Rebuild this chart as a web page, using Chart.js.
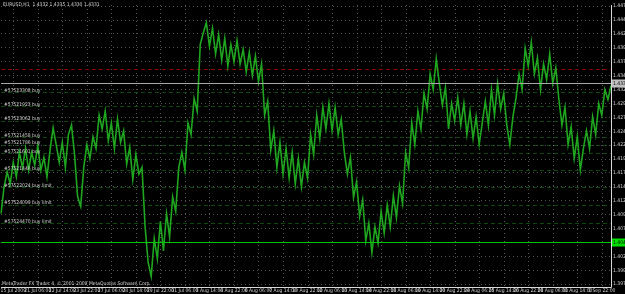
<!DOCTYPE html>
<html>
<head>
<meta charset="utf-8">
<script src="https://cdn.jsdelivr.net/npm/chart.js@4.4.0/dist/chart.umd.min.js"></script>
<style>
html, body { margin: 0; padding: 0; background: #000; }
</style>
</head>
<body>
<canvas id="myChart" width="625" height="294"></canvas>
<script>
// EURUSD H1 (one value every 4 bars)
var closePrices = [
    1.4097, 1.4145, 1.4172, 1.4150, 1.4189, 1.4163, 1.4207, 1.4179, 1.4214, 1.4175,
    1.4207, 1.4184, 1.4219, 1.4175, 1.4198, 1.4163, 1.4211, 1.4251, 1.4221, 1.4189,
    1.4225, 1.4180, 1.4239, 1.4256, 1.4203, 1.4127, 1.4110, 1.4180, 1.4221, 1.4196,
    1.4235, 1.4214, 1.4274, 1.4249, 1.4281, 1.4228, 1.4260, 1.4214, 1.4267, 1.4225,
    1.4246, 1.4186, 1.4216, 1.4158, 1.4203, 1.4168, 1.4180, 1.4074, 1.4009, 1.3984,
    1.4052, 1.4016, 1.4083, 1.4030, 1.4097, 1.4055, 1.4127, 1.4101, 1.4180, 1.4207,
    1.4175, 1.4260, 1.4239, 1.4304, 1.4281, 1.4401, 1.4422, 1.4440, 1.4398, 1.4430,
    1.4384, 1.4419, 1.4373, 1.4412, 1.4362, 1.4401, 1.4370, 1.4408, 1.4366, 1.4392,
    1.4352, 1.4387, 1.4345, 1.4380, 1.4334, 1.4366, 1.4274, 1.4299, 1.4211, 1.4246,
    1.4180, 1.4225, 1.4168, 1.4214, 1.4161, 1.4207, 1.4150, 1.4196, 1.4145, 1.4189,
    1.4161, 1.4239, 1.4203, 1.4274, 1.4232, 1.4288, 1.4249, 1.4295, 1.4246, 1.4288,
    1.4239, 1.4267, 1.4207, 1.4168, 1.4198, 1.4126, 1.4154, 1.4092, 1.4122, 1.4048,
    1.4080, 1.4027, 1.4073, 1.4044, 1.4101, 1.4062, 1.4112, 1.4073, 1.4129, 1.4090,
    1.4147, 1.4115, 1.4207, 1.4179, 1.4260, 1.4221, 1.4281, 1.4249, 1.4313, 1.4285,
    1.4348, 1.4320, 1.4375, 1.4331, 1.4292, 1.4324, 1.4249, 1.4295, 1.4264, 1.4306,
    1.4256, 1.4295, 1.4239, 1.4281, 1.4232, 1.4271, 1.4221, 1.4260, 1.4299, 1.4256,
    1.4320, 1.4274, 1.4331, 1.4285, 1.4313, 1.4256, 1.4221, 1.4271, 1.4304, 1.4348,
    1.4320, 1.4394, 1.4362, 1.4405, 1.4348, 1.4377, 1.4320, 1.4366, 1.4338, 1.4384,
    1.4331, 1.4359, 1.4302, 1.4256, 1.4288, 1.4221, 1.4253, 1.4196, 1.4235, 1.4175,
    1.4214, 1.4246, 1.4214, 1.4271, 1.4239, 1.4295, 1.4274, 1.4320, 1.4302, 1.4327
];

var timeLabels = [
    '15 Jul 2009', '21 Jul 06:00', '22 Jul 14:00', '23 Jul 22:00', '27 Jul 06:00',
    '28 Jul 14:00', '29 Jul 22:00', '31 Jul 06:00', '3 Aug 14:00', '4 Aug 22:00',
    '6 Aug 06:00', '7 Aug 14:00', '10 Aug 22:00', '12 Aug 06:00', '13 Aug 14:00',
    '14 Aug 22:00', '18 Aug 06:00', '19 Aug 14:00', '20 Aug 22:00', '24 Aug 06:00',
    '25 Aug 14:00', '26 Aug 22:00', '28 Aug 06:00', '31 Aug 14:00', '1 Sep 22:00'
];

var priceTicks = [
    1.3970, 1.3995, 1.4020, 1.4045, 1.4070, 1.4095, 1.4120, 1.4145, 1.4170, 1.4195, 1.4220,
    1.4245, 1.4270, 1.4295, 1.4320, 1.4345, 1.4370, 1.4395, 1.4420, 1.4445, 1.4470
];

var orderLevels = [1.4316, 1.4290, 1.4264, 1.4235, 1.4221, 1.4205, 1.4175, 1.4145, 1.4113, 1.4080];
var orderNames = [
    '#57523308 buy', '#57521923 buy', '#57523062 buy', '#57521458 buy', '#57521786 buy',
    '#57521601 buy', '#57521446 buy', '#57522024 buy limit', '#57524099 buy limit', '#57524470 buy limit'
];

var bidPrice = 1.4331;
var hLinePrice = 1.4046;
var redLinePrice = 1.4357;

var gridColor = 'rgba(150,150,150,0.55)';
var textColor = '#d0d0d0';
var smallFont = '5px "DejaVu Sans Condensed"';
var tickEvery = 8, tickStart = 4;

var barIndex = closePrices.map(function (v, i) { return i; });

function isTimeTick(i) { return i % tickEvery === tickStart; }

// grid, lines, price boxes and texts that MetaTrader draws on the chart
var overlay = {
    id: 'overlay',
    beforeDatasetsDraw: function (chart) {
        var ctx = chart.ctx, a = chart.chartArea, x = chart.scales.x, y = chart.scales.y;
        ctx.save();
        ctx.lineWidth = 1;
        ctx.setLineDash([1, 3]);
        ctx.strokeStyle = gridColor;
        barIndex.forEach(function (i) {
            if (!isTimeTick(i)) return;
            var px = Math.round(x.getPixelForValue(i)) + 0.5;
            ctx.beginPath(); ctx.moveTo(px, a.top); ctx.lineTo(px, a.bottom); ctx.stroke();
        });
        ctx.setLineDash([4, 3]);
        ctx.strokeStyle = 'rgba(20,120,20,0.6)';
        orderLevels.forEach(function (p) {
            var py = Math.round(y.getPixelForValue(p)) + 0.5;
            ctx.beginPath(); ctx.moveTo(a.left, py); ctx.lineTo(a.right, py); ctx.stroke();
        });
        ctx.strokeStyle = '#8a0000';
        var ry = Math.round(y.getPixelForValue(redLinePrice)) + 0.5;
        ctx.beginPath(); ctx.moveTo(a.left, ry); ctx.lineTo(a.right, ry); ctx.stroke();
        ctx.restore();
    },
    afterDraw: function (chart) {
        var ctx = chart.ctx, a = chart.chartArea, y = chart.scales.y;
        ctx.save();
        ctx.lineWidth = 1;
        var by = Math.round(y.getPixelForValue(bidPrice)) + 0.5;
        ctx.strokeStyle = '#a8a8a8';
        ctx.beginPath(); ctx.moveTo(a.left, by); ctx.lineTo(a.right, by); ctx.stroke();
        var gy = Math.round(y.getPixelForValue(hLinePrice)) + 0.5;
        ctx.strokeStyle = '#00c800';
        ctx.beginPath(); ctx.moveTo(a.left, gy); ctx.lineTo(a.right, gy); ctx.stroke();
        // axis lines
        ctx.strokeStyle = '#d8d8d8';
        ctx.beginPath();
        ctx.moveTo(a.right + 0.5, a.top); ctx.lineTo(a.right + 0.5, a.bottom + 0.5);
        ctx.lineTo(a.left, a.bottom + 0.5);
        ctx.stroke();
        // price boxes
        ctx.font = smallFont;
        ctx.textBaseline = 'middle';
        ctx.textAlign = 'left';
        ctx.fillStyle = '#c0c0c0';
        ctx.fillRect(a.right + 1, by - 4, 20, 8);
        ctx.fillStyle = '#000';
        ctx.fillText(bidPrice.toFixed(4), a.right + 2, by);
        ctx.fillStyle = '#00e000';
        ctx.fillRect(a.right + 1, gy - 4, 20, 8);
        ctx.fillStyle = '#000';
        ctx.fillText(hLinePrice.toFixed(4), a.right + 2, gy);
        // order labels
        ctx.fillStyle = textColor;
        ctx.textBaseline = 'bottom';
        orderLevels.forEach(function (p, i) {
            ctx.fillText(orderNames[i], a.left + 3, y.getPixelForValue(p) + 1);
        });
        // header and copyright
        ctx.textBaseline = 'middle';
        ctx.fillText('EURUSD,H1  1.4332 1.4335 1.4330 1.4331', 3, 5);
        ctx.fillText('MetaTrader FX Trader 4, \u00a9 2001-2009 MetaQuotes Software Corp.', 2, a.bottom - 3);
        ctx.restore();
    }
};

var element = document.getElementById('myChart').getContext('2d');

var chart = new Chart(element, {
    type: 'line',
    data: {
        labels: barIndex,
        datasets: [{
            label: 'EURUSD,H1',
            data: closePrices,
            borderColor: '#1fa51f',
            borderWidth: 1.6,
            pointRadius: 0,
            tension: 0
        }]
    },
    options: {
        responsive: false,
        animation: false,
        devicePixelRatio: 1,
        layout: { padding: 0 },
        plugins: { legend: { display: false }, tooltip: { enabled: false } },
        scales: {
            x: {
                type: 'category',
                offset: false,
                afterFit: function (axis) { axis.height = 7; },
                grid: { drawTicks: false, color: 'rgba(0,0,0,0)' },
                border: { display: false },
                ticks: {
                    autoSkip: false, maxRotation: 0, minRotation: 0, padding: 1,
                    color: textColor,
                    font: { size: 5, family: 'DejaVu Sans Condensed' },
                    callback: function (v, i) {
                        return isTimeTick(i) ? timeLabels[(i - tickStart) / tickEvery] : '';
                    }
                }
            },
            y: {
                position: 'right',
                min: 1.39649,
                max: 1.4472,
                afterBuildTicks: function (axis) {
                    axis.ticks = priceTicks.map(function (v) { return { value: v }; });
                },
                afterFit: function (axis) { axis.width = 14; },
                grid: { drawTicks: false, color: gridColor },
                border: { display: false, dash: [1, 3] },
                ticks: {
                    padding: 2,
                    color: textColor,
                    font: { size: 5, family: 'DejaVu Sans Condensed' },
                    callback: function (v) { return v.toFixed(4); }
                }
            }
        }
    },
    plugins: [overlay]
});
</script>
</body>
</html>
